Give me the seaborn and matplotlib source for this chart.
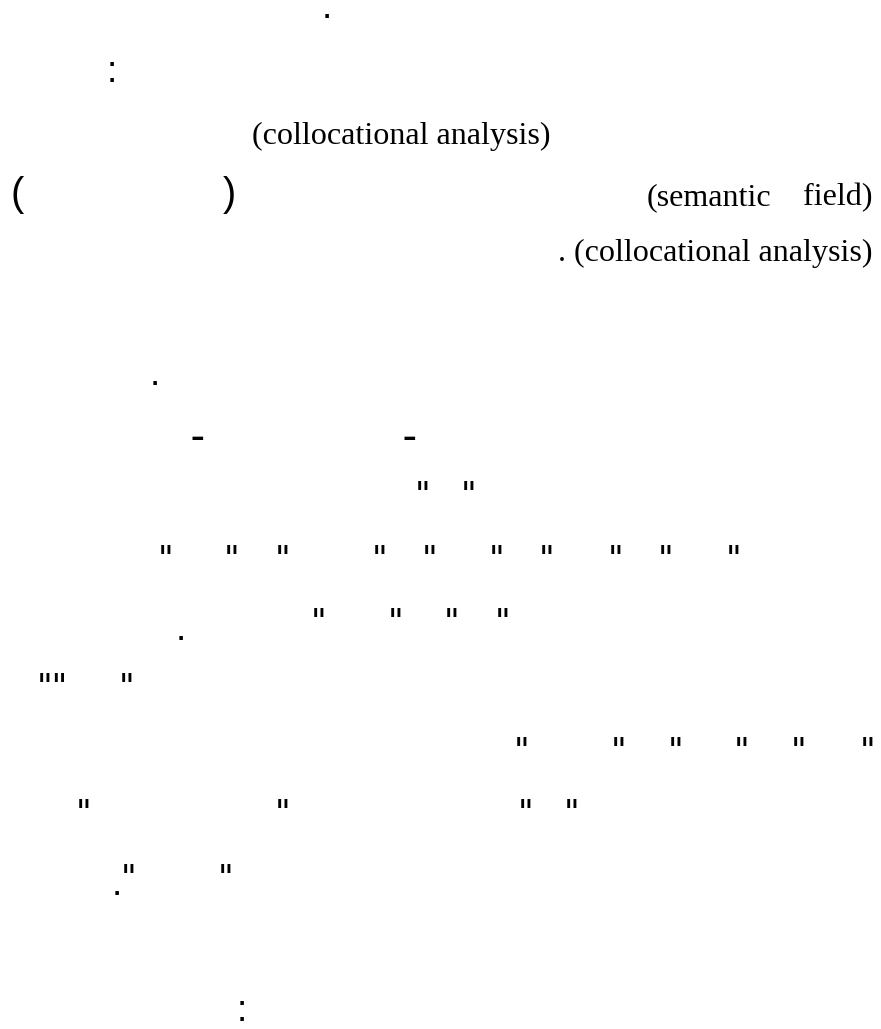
import matplotlib
matplotlib.use('Agg')
import matplotlib.pyplot as plt
import seaborn as sns

# Lignes de texte latin (serif)
latin_texts = ['(collocational analysis)', '(semantic', 'field)', '. (collocational analysis)']
latin_x = [252, 647, 872, 872]
latin_y = [144, 205, 205, 261]
latin_ha = ['left', 'left', 'right', 'right']

# Signes de ponctuation visibles sur la page
mark_glyphs = ['.', ':', '(', ')', '.', '–', '"', '"', '"', '.', '""', '"', '"', '"', '"', '.', ':']
mark_y = [16, 72, 196, 196, 383, 438, 486, 550, 613, 638, 678, 678, 742, 804, 869, 893, 1011]
mark_x = [
    [327],
    [112],
    [17],
    [229],
    [155],
    [197, 409],
    [423, 469],
    [166, 232, 283, 380, 430, 497, 547, 616, 666, 734],
    [319, 396, 452, 503],
    [181],
    [52],
    [127],
    [522, 619, 676, 742, 799, 868],
    [84, 283, 526, 572],
    [129, 226],
    [117],
    [242],
]

# police, taille (px par em), graisse et centre de l'encre au-dessus de la ligne de base (em)
glyph_style = {
    '.': ('Liberation Sans', 37, 'normal', 0.052),
    ':': ('Liberation Sans', 37, 'normal', 0.26),
    '(': ('Liberation Sans', 40, 'normal', 0.26),
    ')': ('Liberation Sans', 40, 'normal', 0.26),
    '"': ('DejaVu Sans', 34, 'normal', 0.60),
    '""': ('DejaVu Sans', 34, 'normal', 0.60),
    '–': ('DejaVu Sans', 27, 'bold', 0.28),
}

sns.set_theme(style='white')
plt.rcParams['font.family'] = ['Liberation Sans', 'DejaVu Sans']

fig = plt.figure(figsize=(8.81, 10.29), dpi=100)
ax = fig.add_axes([0, 0, 1, 1])
ax.set_xlim(0, 881)
ax.set_ylim(1029, 0)
ax.axis('off')

serif_px = 32.2
for txt, x, y, ha in zip(latin_texts, latin_x, latin_y, latin_ha):
    ax.text(x, y, txt, ha=ha, va='baseline', family='Liberation Serif',
            fontsize=serif_px * 0.72, color='black')

for g, y, xs in zip(mark_glyphs, mark_y, mark_x):
    fam, em, weight, c = glyph_style[g]
    base = y + c * em
    for x in xs:
        ax.text(x, base, g, ha='center', va='baseline', family=fam,
                fontsize=em * 0.72, fontweight=weight, color='black')

fig.savefig('out.png', dpi=100)
